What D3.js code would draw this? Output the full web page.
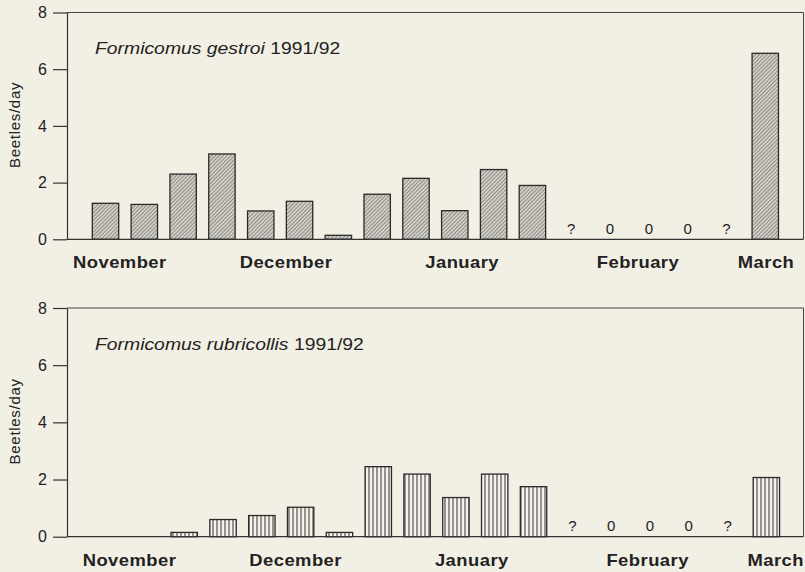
<!DOCTYPE html>
<html>
<head>
<meta charset="utf-8">
<script src="https://cdn.jsdelivr.net/npm/d3@7"></script>
<style>
  body { margin: 0; background: #f2f0e5; }
  svg { display: block; }
  text { font-family: "Liberation Sans", Arial, sans-serif; fill: #222; }
</style>
</head>
<body>
<div class="chart"></div>
<script>
// sampling periods (roughly weekly), Nov 1991 - Mar 1992
const periods = [1, 2, 3, 4, 5, 6, 7, 8, 9, 10, 11, 12, 13, 14, 15, 16, 17, 18];

const gestroi     = [1.27, 1.23, 2.30, 3.01, 1.00, 1.34, 0.14, 1.59, 2.15, 1.01, 2.46, 1.90, null, 0, 0, 0, null, 6.56];
const rubricollis = [0, 0, 0.15, 0.60, 0.74, 1.03, 0.15, 2.45, 2.19, 1.37, 2.19, 1.75, null, 0, 0, 0, null, 2.07];

// text written under empty periods
const markPeriods = [13, 14, 15, 16, 17];
const markText    = ["?", "0", "0", "0", "?"];

const months   = ["November", "December", "January", "February", "March"];
const monthPos = [1.37, 5.65, 10.19, 14.72, 18.02];   // in period units

const yTicks = [0, 2, 4, 6, 8];

const W = 805, H = 572;

const svg = d3.select(".chart")
  .append("svg")
    .attr("width", W)
    .attr("height", H);

const defs = svg.append("defs");

// diagonal hatch over grey (top panel)
const diag = defs.append("pattern")
    .attr("id", "diag")
    .attr("patternUnits", "userSpaceOnUse")
    .attr("width", 2.7)
    .attr("height", 2.7)
    .attr("patternTransform", "rotate(45)");
diag.append("rect").attr("width", 2.7).attr("height", 2.7).attr("fill", "#d3d1c8");
diag.append("line")
    .attr("x1", 0.5).attr("y1", 0).attr("x2", 0.5).attr("y2", 2.7)
    .attr("stroke", "#6e6e68").attr("stroke-width", 0.7);

// vertical lines (bottom panel)
const vert = defs.append("pattern")
    .attr("id", "vert")
    .attr("patternUnits", "userSpaceOnUse")
    .attr("width", 4)
    .attr("height", 4);
vert.append("rect").attr("width", 4).attr("height", 4).attr("fill", "#f4f2ea");
vert.append("line")
    .attr("x1", 1).attr("y1", 0).attr("x2", 1).attr("y2", 4)
    .attr("stroke", "#333").attr("stroke-width", 1);

const panels = [
  { name: "Formicomus gestroi", values: gestroi, top: 12.5, bottom: 239.3, x0: 86.1, fill: "url(#diag)", labelShift: 0 },
  { name: "Formicomus rubricollis", values: rubricollis, top: 308, bottom: 536.7, x0: 87.2, fill: "url(#vert)", labelShift: 0.22 }
];

const axisX = 67, rightX = 803.5;

function drawPanel(p){
  const g = svg.append("g");

  const x = d3.scaleBand()
    .domain(periods)
    .range([p.x0, p.x0 + 38.81 * periods.length])
    .paddingInner(0.32)
    .paddingOuter(0.16);

  const y = d3.scaleLinear()
    .domain([0, 8])
    .range([p.bottom, p.top]);

  // position of fractional period (for month labels)
  const xPos = v => x(periods[0]) + x.bandwidth() / 2 + (v - 1) * x.step();

  // frame: top + right
  g.append("path")
    .attr("d", `M${axisX},${p.top}H${rightX}V${p.bottom}`)
    .attr("fill", "none")
    .attr("stroke", "#444")
    .attr("stroke-width", 1);

  // bars
  const data = p.values.map((v, i) => ({ period: periods[i], value: v }))
    .filter(d => d.value != null && d.value > 0);

  g.append("g")
    .selectAll("rect")
    .data(data)
    .enter().append("rect")
      .attr("x", d => x(d.period))
      .attr("y", d => y(d.value))
      .attr("width", x.bandwidth())
      .attr("height", d => y(0) - y(d.value))
      .attr("fill", p.fill)
      .attr("stroke", "#2a2a2a")
      .attr("stroke-width", 1.3);

  // baseline
  g.append("line")
    .attr("x1", axisX).attr("x2", rightX)
    .attr("y1", y(0)).attr("y2", y(0))
    .attr("stroke", "#333")
    .attr("stroke-width", 1.3);

  // y axis
  const ax = g.append("g")
    .attr("transform", `translate(${axisX},0)`)
    .call(d3.axisLeft(y).tickValues(yTicks).tickSize(14).tickSizeOuter(0).tickPadding(6));
  ax.selectAll("path, line").attr("stroke", "#333").attr("stroke-width", 1.2);
  ax.selectAll("text")
    .style("font-size", "16px")
    .style("font-family", "Liberation Sans, Arial, sans-serif")
    .attr("fill", "#222");

  // y label
  g.append("text")
    .attr("transform", `translate(20,${(p.top + p.bottom) / 2 - 1}) rotate(-90)`)
    .attr("text-anchor", "middle")
    .style("font-size", "15px")
    .style("letter-spacing", "0.7px")
    .text("Beetles/day");

  // title
  const t = g.append("text")
    .attr("transform", `translate(95,${p.top + 41.5}) scale(1.21,1)`)
    .style("font-size", "16px");
  t.append("tspan").style("font-style", "italic").text(p.name);
  t.append("tspan").text(" 1991/92");

  // marks for empty periods
  g.append("g")
    .selectAll("text")
    .data(markPeriods)
    .enter().append("text")
      .attr("x", (d) => x(d) + x.bandwidth() / 2)
      .attr("y", y(0) - 5.5)
      .attr("text-anchor", "middle")
      .style("font-size", "15px")
      .text((d, i) => markText[i]);

  // month labels
  g.append("g")
    .selectAll("text")
    .data(months)
    .enter().append("text")
      .attr("transform", (d, i) => `translate(${xPos(monthPos[i] + p.labelShift)},${y(0) + 29}) scale(1.15,1)`)
      .attr("text-anchor", "middle")
      .style("font-size", "16px")
      .style("font-weight", "bold")
      .style("letter-spacing", "0.4px")
      .text(d => d);
}

panels.forEach(drawPanel);
</script>
</body>
</html>
